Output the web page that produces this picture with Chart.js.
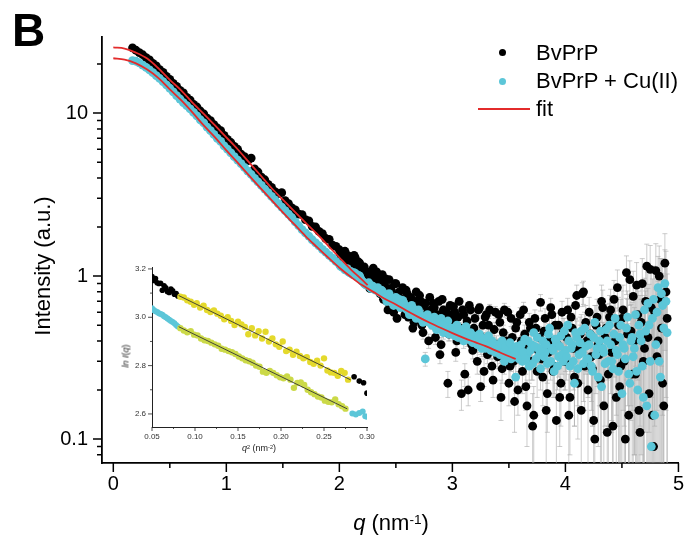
<!DOCTYPE html>
<html>
<head>
<meta charset="utf-8">
<script src="https://cdn.jsdelivr.net/npm/chart.js@4.4.1/dist/chart.umd.min.js"></script>
<style>
  html, body { margin: 0; padding: 0; background: #fff; }
  #wrap { position: relative; width: 693px; height: 542px; font-family: Arial, "Liberation Sans", sans-serif; overflow: hidden; }
  #mainChart { position: absolute; left: 0; top: 0; }
  #insetChart { position: absolute; left: 110px; top: 255px; }
  .lbl { position: absolute; color: #000; white-space: nowrap; }
  .dot { position: absolute; width: 7px; height: 7px; border-radius: 50%; }
  sup { font-size: 62%; vertical-align: top; position: relative; top: -0.2em; }
</style>
</head>
<body>
<div id="wrap">
  <canvas id="mainChart" width="693" height="542"></canvas>
  <canvas id="insetChart" width="270" height="200"></canvas>

  <div class="lbl" style="left:12px; top:7px; font-size:46px; line-height:46px; font-weight:bold;">B</div>

  <!-- legend -->
  <div class="dot" style="left:499px; top:49px; background:#000;"></div>
  <div class="lbl" style="left:536px; top:42px; font-size:22px; line-height:22px;">BvPrP</div>
  <div class="dot" style="left:499px; top:78px; background:#5cc6d8;"></div>
  <div class="lbl" style="left:536px; top:70px; font-size:22px; line-height:22px;">BvPrP + Cu(II)</div>
  <div class="lbl" style="left:478px; top:108px; width:52px; height:2px; background:#e32b2b;"></div>
  <div class="lbl" style="left:536px; top:98px; font-size:22px; line-height:22px;">fit</div>

  <!-- axis titles -->
  <div class="lbl" style="left:43px; top:266px; font-size:22px; line-height:22px; transform:translate(-50%,-50%) rotate(-90deg);">Intensity (a.u.)</div>
  <div class="lbl" style="left:391px; top:512px; font-size:22px; line-height:22px; transform:translateX(-50%);"><i>q</i> (nm<sup>-1</sup>)</div>

  <!-- inset titles -->
  <div class="lbl" style="left:126px; top:356px; font-size:9px; line-height:9px; color:#222; transform:translate(-50%,-50%) rotate(-90deg);"><i>ln I</i>(<i>q</i>)</div>
  <div class="lbl" style="left:259px; top:444px; font-size:9px; line-height:9px; color:#222; transform:translateX(-50%);"><i>q</i><sup>2</sup> (nm<sup>-2</sup>)</div>
</div>

<script>
// ---- main plot data: q (nm^-1) and intensity (a.u.) ----
const qLow = [0.17,0.20,0.23,0.26,0.29,0.32,0.35,0.38,0.41,0.44,0.47,0.50,0.53,0.56,0.59,0.62,0.65,0.68,0.71,0.74,
  0.77,0.80,0.83,0.86,0.89,0.92,0.95,0.98,1.01,1.04,1.07,1.10,1.13,1.16,1.19,1.22,1.25,1.28,1.31,1.34,
  1.37,1.40,1.43,1.46,1.49,1.52,1.55,1.58,1.61,1.64,1.67,1.70,1.73,1.76,1.79,1.82,1.85,1.88,1.91,1.94,1.97];

const blackLow = [25.1,24.3,23.5,22.8,21.9,21.2,20.2,19.5,18.5,17.8,
  16.8,16.1,15.2,14.6,13.8,13.3,12.5,12.0,11.3,10.9,
  10.3,9.9,9.3,9.0,8.5,8.1,7.8,7.3,6.9,6.6,
  6.25,6.0,5.6,5.4,5.1,5.3,4.55,4.35,4.05,3.9,
  3.65,3.5,3.3,3.2,3.25,2.9,2.78,2.62,2.55,2.4,
  2.38,2.22,2.18,2.02,2.0,1.88,1.82,1.7,1.68,1.55,1.52];

const cyanLow = [21.0,20.8,20.3,19.7,19.1,18.4,17.7,17.0,16.3,15.6,
  14.9,14.2,13.5,12.8,12.2,11.6,11.1,10.6,10.1,9.6,
  9.1,8.7,8.2,7.8,7.4,7.0,6.7,6.3,6.0,5.7,
  5.4,5.15,4.9,4.65,4.4,4.2,3.98,3.78,3.6,3.42,
  3.25,3.08,2.93,2.78,2.65,2.52,2.4,2.28,2.15,2.04,
  1.93,1.84,1.76,1.67,1.60,1.53,1.46,1.40,1.34,1.29,1.23];

// noisy part, even grid
const qHigh = [2.00,2.02,2.04,2.06,2.08,2.10,2.12,2.14,2.16,2.18,
  2.20,2.22,2.24,2.26,2.28,2.30,2.32,2.34,2.36,2.38,
  2.40,2.42,2.44,2.46,2.48,2.50,2.52,2.54,2.56,2.58,
  2.60,2.62,2.64,2.66,2.68,2.70,2.72,2.74,2.76,2.78,
  2.80,2.82,2.84,2.86,2.88,2.90,2.92,2.94,2.96,2.98,
  3.00,3.02,3.04,3.06,3.08,3.10,3.12,3.14,3.16,3.18,
  3.20,3.22,3.24,3.26,3.28,3.30,3.32,3.34,3.36,3.38,
  3.40,3.42,3.44,3.46,3.48,3.50,3.52,3.54,3.56,3.58,
  3.60,3.62,3.64,3.66,3.68,3.70,3.72,3.74,3.76,3.78,
  3.80,3.82,3.84,3.86,3.88,3.90,3.92,3.94,3.96,3.98,
  4.00,4.02,4.04,4.06,4.08,4.10,4.12,4.14,4.16,4.18,
  4.20,4.22,4.24,4.26,4.28,4.30,4.32,4.34,4.36,4.38,
  4.40,4.42,4.44,4.46,4.48,4.50,4.52,4.54,4.56,4.58,
  4.60,4.62,4.64,4.66,4.68,4.70,4.72,4.74,4.76,4.78,
  4.80,4.82,4.84,4.86,4.88,4.90];

const blackHigh = [1.45,1.30,1.38,1.22,1.33,1.25,1.18,1.30,1.10,1.20,
  1.02,1.14,0.95,1.06,0.90,1.12,0.86,0.98,0.78,1.02,
  0.88,0.70,0.95,0.82,0.60,0.90,0.76,0.68,0.85,0.58,
  0.78,0.66,0.72,0.52,0.80,0.62,0.70,0.45,0.68,0.60,
  0.74,0.55,0.64,0.48,0.70,0.38,0.62,0.56,0.22,0.66,
  0.52,0.60,0.40,0.70,0.19,0.58,0.46,0.20,0.62,0.35,
  0.55,0.30,0.64,0.42,0.26,0.58,0.50,0.36,0.23,0.60,
  0.32,0.52,0.27,0.62,0.40,0.22,0.55,0.30,0.48,0.20,
  0.58,0.26,0.44,0.16,0.52,0.30,0.14,0.48,0.35,0.69,
  0.24,0.55,0.19,0.40,0.58,0.28,0.13,0.50,0.22,0.45,
  0.30,0.62,0.18,0.48,0.24,0.76,0.35,0.15,0.80,0.52,
  0.20,0.44,0.27,0.10,0.56,0.33,0.70,0.16,0.48,0.25,
  0.62,0.12,0.40,0.85,0.21,0.55,0.30,1.05,0.14,0.46,
  0.75,0.25,0.58,0.11,0.90,0.36,1.15,0.19,0.64,0.09,
  1.08,0.40,0.72,0.22,1.20,0.55];

const cyanHigh = [1.18,1.14,1.12,1.10,1.06,1.07,1.02,1.04,0.99,1.00,
  0.93,0.90,0.88,0.91,0.84,0.86,0.82,0.85,0.79,0.81,
  0.76,0.70,0.78,0.72,0.66,0.74,0.69,0.64,0.71,0.66,
  0.63,0.58,0.66,0.60,0.55,0.62,0.57,0.52,0.31,0.58,
  0.54,0.50,0.56,0.47,0.52,0.55,0.45,0.50,0.53,0.46,
  0.48,0.43,0.50,0.44,0.46,0.40,0.49,0.42,0.45,0.39,
  0.42,0.38,0.44,0.36,0.41,0.37,0.43,0.35,0.39,0.34,
  0.37,0.33,0.40,0.30,0.35,0.38,0.31,0.36,0.24,0.34,
  0.36,0.30,0.41,0.33,0.28,0.38,0.45,0.31,0.36,0.27,
  0.40,0.34,0.29,0.48,0.36,0.26,0.39,0.32,0.43,0.30,
  0.35,0.50,0.28,0.38,0.22,0.42,0.33,0.46,0.29,0.37,
  0.31,0.44,0.26,0.52,0.36,0.40,0.21,0.34,0.47,0.30,
  0.38,0.27,0.55,0.33,0.42,0.19,0.36,0.48,0.25,0.40,
  0.32,0.58,0.20,0.44,0.28,0.62,0.16,0.50,0.09,0.72,
  0.38,0.85,0.24,0.66,0.90,0.45];

// noisy part, odd grid (in between)
const qHigh2 = [2.01,2.03,2.05,2.07,2.09,2.11,2.13,2.15,2.17,2.19,
  2.21,2.23,2.25,2.27,2.29,2.31,2.33,2.35,2.37,2.39,
  2.41,2.43,2.45,2.47,2.49,2.51,2.53,2.55,2.57,2.59,
  2.61,2.63,2.65,2.67,2.69,2.71,2.73,2.75,2.77,2.79,
  2.81,2.83,2.85,2.87,2.89,2.91,2.93,2.95,2.97,2.99,
  3.01,3.03,3.05,3.07,3.09,3.11,3.13,3.15,3.17,3.19,
  3.21,3.23,3.25,3.27,3.29,3.31,3.33,3.35,3.37,3.39,
  3.41,3.43,3.45,3.47,3.49,3.51,3.53,3.55,3.57,3.59,
  3.61,3.63,3.65,3.67,3.69,3.71,3.73,3.75,3.77,3.79,
  3.81,3.83,3.85,3.87,3.89,3.91,3.93,3.95,3.97,3.99,
  4.01,4.03,4.05,4.07,4.09,4.11,4.13,4.15,4.17,4.19,
  4.21,4.23,4.25,4.27,4.29,4.31,4.33,4.35,4.37,4.39,
  4.41,4.43,4.45,4.47,4.49,4.51,4.53,4.55,4.57,4.59,
  4.61,4.63,4.65,4.67,4.69,4.71,4.73,4.75,4.77,4.79,
  4.81,4.83,4.85,4.87,4.89];

const blackHigh2 = [1.36,1.24,1.42,1.15,1.28,1.20,1.34,1.08,1.22,1.12,
  1.08,0.92,1.04,0.84,0.99,0.94,1.06,0.82,0.92,0.72,
  0.96,0.62,0.84,0.74,0.90,0.55,0.80,0.72,0.64,0.82,
  0.56,0.74,0.48,0.70,0.64,0.76,0.50,0.66,0.58,0.40,
  0.62,0.68,0.42,0.58,0.33,0.72,0.50,0.60,0.44,0.57,
  0.65,0.34,0.56,0.48,0.62,0.25,0.53,0.66,0.38,0.48,
  0.44,0.62,0.21,0.50,0.56,0.33,0.62,0.28,0.47,0.38,
  0.58,0.18,0.45,0.35,0.60,0.28,0.42,0.17,0.52,0.36,
  0.40,0.62,0.21,0.36,0.48,0.12,0.55,0.26,0.42,0.31,
  0.46,0.15,0.34,0.64,0.26,0.50,0.38,0.18,0.60,0.30,
  0.42,0.14,0.56,0.36,0.66,0.22,0.44,0.78,0.28,0.40,
  0.60,0.32,0.13,0.50,0.38,0.23,0.64,0.42,0.11,0.56,
  0.34,0.72,0.18,0.50,0.28,0.62,0.10,0.44,0.95,0.25,
  0.40,0.88,0.15,0.52,0.30,0.70,0.42,1.10,0.14,0.60,
  0.32,1.00,0.48,0.16,0.80];

const cyanHigh2 = [1.15,1.13,1.09,1.11,1.05,1.03,1.05,1.00,1.01,0.96,
  0.92,0.89,0.90,0.86,0.87,0.83,0.84,0.80,0.82,0.77,
  0.74,0.76,0.71,0.73,0.69,0.67,0.72,0.65,0.68,0.63,
  0.61,0.64,0.58,0.62,0.57,0.59,0.54,0.56,0.53,0.55,
  0.51,0.53,0.49,0.52,0.48,0.50,0.47,0.49,0.44,0.48,
  0.46,0.45,0.42,0.47,0.43,0.45,0.41,0.44,0.40,0.43,
  0.40,0.43,0.37,0.40,0.36,0.42,0.38,0.40,0.35,0.37,
  0.36,0.39,0.34,0.37,0.32,0.39,0.35,0.33,0.37,0.31,
  0.38,0.34,0.31,0.40,0.35,0.29,0.37,0.42,0.33,0.36,
  0.32,0.38,0.44,0.30,0.35,0.41,0.28,0.37,0.33,0.46,
  0.32,0.40,0.36,0.30,0.45,0.27,0.39,0.34,0.48,0.31,
  0.38,0.28,0.42,0.33,0.24,0.46,0.36,0.29,0.40,0.50,
  0.30,0.44,0.35,0.26,0.50,0.38,0.31,0.56,0.22,0.42,
  0.36,0.26,0.50,0.40,0.18,0.46,0.68,0.30,0.55,0.14,
  0.60,0.30,0.78,0.48,0.70];

// error sizes along the even grid (odd points take their left neighbour's value)
const errBlackHigh = [0.02,0.02,0.02,0.02,0.02,0.02,0.02,0.02,0.02,0.02,
  0.03,0.03,0.03,0.03,0.03,0.03,0.03,0.03,0.03,0.03,
  0.03,0.03,0.03,0.03,0.03,0.03,0.03,0.03,0.03,0.03,
  0.03,0.03,0.03,0.03,0.03,0.04,0.04,0.04,0.04,0.04,
  0.04,0.04,0.04,0.04,0.04,0.04,0.04,0.04,0.04,0.04,
  0.04,0.04,0.04,0.04,0.04,0.04,0.04,0.04,0.04,0.04,
  0.04,0.05,0.04,0.05,0.05,0.04,0.05,0.05,0.05,0.05,
  0.05,0.05,0.05,0.06,0.05,0.06,0.06,0.06,0.06,0.06,
  0.06,0.07,0.06,0.07,0.07,0.07,0.07,0.08,0.07,0.08,
  0.08,0.08,0.08,0.09,0.08,0.09,0.09,0.09,0.10,0.10,
  0.10,0.11,0.10,0.11,0.12,0.12,0.12,0.13,0.13,0.14,
  0.14,0.15,0.15,0.16,0.16,0.17,0.18,0.18,0.19,0.20,
  0.21,0.22,0.23,0.24,0.25,0.26,0.27,0.28,0.29,0.30,
  0.32,0.33,0.35,0.36,0.38,0.40,0.42,0.44,0.46,0.48,
  0.50,0.53,0.56,0.59,0.62,0.65];

const errCyanHigh = [0.02,0.02,0.02,0.02,0.02,0.02,0.02,0.02,0.02,0.02,
  0.02,0.02,0.02,0.02,0.02,0.03,0.03,0.03,0.03,0.03,
  0.03,0.03,0.03,0.03,0.03,0.03,0.03,0.03,0.03,0.03,
  0.03,0.03,0.03,0.03,0.03,0.03,0.03,0.03,0.03,0.03,
  0.03,0.03,0.03,0.03,0.03,0.04,0.04,0.04,0.04,0.04,
  0.04,0.04,0.04,0.04,0.04,0.04,0.04,0.04,0.04,0.04,
  0.04,0.04,0.04,0.04,0.04,0.04,0.04,0.04,0.04,0.04,
  0.04,0.04,0.05,0.05,0.05,0.05,0.05,0.05,0.05,0.05,
  0.05,0.05,0.06,0.06,0.06,0.06,0.06,0.06,0.07,0.07,
  0.07,0.07,0.07,0.07,0.08,0.08,0.08,0.08,0.08,0.09,
  0.09,0.09,0.10,0.10,0.10,0.11,0.11,0.12,0.12,0.12,
  0.13,0.13,0.14,0.14,0.15,0.15,0.16,0.17,0.17,0.18,
  0.19,0.20,0.21,0.21,0.22,0.23,0.24,0.25,0.26,0.27,
  0.28,0.30,0.31,0.32,0.34,0.35,0.37,0.39,0.41,0.43,
  0.45,0.47,0.50,0.52,0.55,0.58];

// fit curves
const fitQUpper = [0,0.1,0.2,0.3,0.4,0.5,0.6,0.7,0.8,0.9,1.0,1.1,1.2,1.3,1.4,1.5,1.6,1.7,1.8,1.9,2.0,2.1,2.2,2.25];
const fitUpper = [25.3,24.9,23.5,21.6,18.8,16.0,13.8,11.6,9.9,8.4,7.1,6.0,5.0,4.17,3.47,2.94,2.50,2.13,1.82,1.54,1.30,1.10,0.95,0.88];
const fitQLower = [0,0.1,0.2,0.3,0.4,0.5,0.6,0.7,0.8,0.9,1.0,1.1,1.2,1.3,1.4,1.5,1.6,1.7,1.8,1.9,
  2.0,2.1,2.2,2.3,2.4,2.5,2.6,2.7,2.8,2.9,3.0,3.1,3.2,3.3,3.4,3.5,3.56];
const fitLower = [21.7,21.3,20.2,18.5,16.4,14.0,12.0,10.1,8.4,7.1,5.9,4.96,4.15,3.48,2.92,2.46,2.08,1.76,1.51,1.30,
  1.125,0.99,0.88,0.80,0.725,0.67,0.61,0.56,0.517,0.48,0.447,0.418,0.393,0.37,0.345,0.322,0.31];

// axis ticks
const xMajor = [0, 1, 2, 3, 4, 5];
const xMinor = [0.5, 1.5, 2.5, 3.5, 4.5];
const yMajor = [0.1, 1, 10];
const yMinor = [0.08, 0.09, 0.2, 0.3, 0.4, 0.5, 0.6, 0.7, 0.8, 0.9, 2, 3, 4, 5, 6, 7, 8, 9, 20];

// ---- inset data: q^2 (nm^-2) vs ln I(q) ----
const insetBlackQ2 = [0.050,0.052,0.054,0.056,0.058,0.060,0.062,0.064,0.066,0.068,0.070,0.072,0.074,0.076,0.078,0.080,0.285,0.291,0.296,0.300];
const insetBlackLn = [3.168,3.152,3.160,3.143,3.140,3.141,3.112,3.130,3.122,3.106,3.103,3.117,3.110,3.095,3.098,3.088,2.754,2.736,2.729,2.686];
const insetTopQ2 = [0.083,0.087,0.091,0.095,0.099,0.102,0.106,0.110,0.114,0.118,0.122,0.126,0.130,0.134,0.138,0.142,0.146,0.150,0.154,0.158,
  0.162,0.166,0.170,0.174,0.178,0.182,0.186,0.190,0.194,0.198,0.202,0.206,0.210,0.214,0.218,0.222,0.226,0.230,0.234,0.238,
  0.242,0.246,0.250,0.254,0.258,0.262,0.266,0.270,0.274,0.278];
const insetTopLn = [3.085,3.082,3.070,3.064,3.052,3.058,3.040,3.048,3.030,3.022,3.028,3.015,3.006,2.992,3.000,2.985,2.968,2.982,2.970,2.960,
  2.930,2.955,2.925,2.942,2.912,2.940,2.900,2.912,2.888,2.878,2.900,2.860,2.866,2.845,2.858,2.840,2.830,2.835,2.815,2.808,
  2.820,2.800,2.830,2.780,2.772,2.770,2.758,2.778,2.770,2.742];
const insetCyanQ2 = [0.050,0.052,0.054,0.056,0.058,0.060,0.062,0.064,0.066,0.068,0.070,0.072,0.074,0.076,0.078,0.080,0.283,0.287,0.291,0.295,0.298,0.300];
const insetCyanLn = [3.037,3.030,3.025,3.022,3.017,3.014,3.010,3.004,3.000,2.995,2.990,2.985,2.980,2.975,2.968,2.962,2.602,2.598,2.604,2.610,2.590,2.588];
const insetLowQ2 = [0.083,0.087,0.091,0.095,0.099,0.103,0.107,0.111,0.115,0.119,0.123,0.127,0.131,0.135,0.139,0.143,0.147,0.151,0.155,0.159,
  0.163,0.167,0.171,0.175,0.179,0.183,0.187,0.191,0.195,0.199,0.203,0.207,0.211,0.215,0.219,0.223,0.227,0.231,0.235,0.239,
  0.243,0.247,0.251,0.255,0.259,0.263,0.267,0.271,0.275];
const insetLowLn = [2.955,2.945,2.938,2.942,2.928,2.925,2.912,2.905,2.902,2.895,2.888,2.882,2.870,2.866,2.860,2.855,2.848,2.838,2.830,2.822,
  2.818,2.812,2.800,2.795,2.775,2.770,2.778,2.770,2.760,2.752,2.748,2.755,2.742,2.708,2.728,2.730,2.720,2.700,2.690,2.682,
  2.672,2.668,2.655,2.650,2.648,2.660,2.640,2.632,2.622];
const insetFitTopQ2 = [0.081, 0.281];
const insetFitTopLn = [3.090, 2.741];
const insetFitLowQ2 = [0.081, 0.277];
const insetFitLowLn = [2.961, 2.621];

const insetXMajor = [0.05, 0.10, 0.15, 0.20, 0.25, 0.30];
const insetXMinor = [0.075, 0.125, 0.175, 0.225, 0.275];
const insetYMajor = [2.6, 2.8, 3.0, 3.2];
const insetYMinor = [2.7, 2.9, 3.1];

// helpers
const toPoints = (xs, ys) => xs.map((v, i) => ({ x: v, y: ys[i] }));

// tick marks drawn outside the axes (major and minor)
const tickMarks = {
  id: 'tickMarks',
  afterDraw(chart, args, opts) {
    const ctx = chart.ctx;
    const area = chart.chartArea;
    const xs = chart.scales.x, ys = chart.scales.y;
    ctx.save();
    ctx.strokeStyle = opts.color;
    ctx.lineWidth = opts.width;
    ctx.beginPath();
    opts.xMajor.forEach(v => { const p = xs.getPixelForValue(v); ctx.moveTo(p, area.bottom); ctx.lineTo(p, area.bottom + opts.majorLen); });
    opts.xMinor.forEach(v => { const p = xs.getPixelForValue(v); ctx.moveTo(p, area.bottom); ctx.lineTo(p, area.bottom + opts.minorLen); });
    opts.yMajor.forEach(v => { const p = ys.getPixelForValue(v); ctx.moveTo(area.left, p); ctx.lineTo(area.left - opts.majorLen, p); });
    opts.yMinor.forEach(v => { const p = ys.getPixelForValue(v); ctx.moveTo(area.left, p); ctx.lineTo(area.left - opts.minorLen, p); });
    ctx.stroke();
    ctx.restore();
  }
};

// grey error bars under the points
const errorBars = {
  id: 'errorBars',
  beforeDatasetsDraw(chart) {
    const { ctx, chartArea } = chart;
    const xs = chart.scales.x, ys = chart.scales.y;
    ctx.save();
    ctx.beginPath();
    ctx.rect(chartArea.left, chartArea.top, chartArea.right - chartArea.left, chartArea.bottom - chartArea.top);
    ctx.clip();
    ctx.strokeStyle = 'rgba(170,170,170,0.75)';
    ctx.lineWidth = 0.8;
    chart.data.datasets.forEach(ds => {
      if (!ds.errors) return;
      ds.data.forEach((p, i) => {
        const e = ds.errors[i];
        if (!e) return;
        const px = xs.getPixelForValue(p.x);
        const top = ys.getPixelForValue(p.y + e);
        const lo = p.y - e;
        const bot = lo > 0 ? ys.getPixelForValue(lo) : chartArea.bottom + 5;
        ctx.beginPath();
        ctx.moveTo(px, top); ctx.lineTo(px, bot);
        ctx.moveTo(px - 2.5, top); ctx.lineTo(px + 2.5, top);
        if (lo > 0) { ctx.moveTo(px - 2.5, bot); ctx.lineTo(px + 2.5, bot); }
        ctx.stroke();
      });
    });
    ctx.restore();
  }
};

const blackData = toPoints(qLow, blackLow).concat(toPoints(qHigh, blackHigh), toPoints(qHigh2, blackHigh2));
const cyanData = toPoints(qLow, cyanLow).concat(toPoints(qHigh, cyanHigh), toPoints(qHigh2, cyanHigh2));
const blackErr = qLow.map(() => 0).concat(errBlackHigh, errBlackHigh.slice(0, qHigh2.length));
const cyanErr = qLow.map(() => 0).concat(errCyanHigh, errCyanHigh.slice(0, qHigh2.length));

const mainChart = new Chart(document.getElementById('mainChart').getContext('2d'), {
  type: 'scatter',
  data: {
    datasets: [
      {
        label: 'fit',
        type: 'line',
        data: toPoints(fitQUpper, fitUpper),
        borderColor: '#e32b2b',
        borderWidth: 1.8,
        pointRadius: 0,
        cubicInterpolationMode: 'monotone',
        order: 0
      },
      {
        label: 'fit',
        type: 'line',
        data: toPoints(fitQLower, fitLower),
        borderColor: '#e32b2b',
        borderWidth: 1.8,
        pointRadius: 0,
        cubicInterpolationMode: 'monotone',
        order: 0
      },
      {
        label: 'BvPrP + Cu(II)',
        data: cyanData,
        errors: cyanErr,
        backgroundColor: '#5cc6d8',
        borderWidth: 0,
        pointRadius: 4.4,
        order: 1
      },
      {
        label: 'BvPrP',
        data: blackData,
        errors: blackErr,
        backgroundColor: '#000',
        borderWidth: 0,
        pointRadius: 4.4,
        order: 2
      }
    ]
  },
  options: {
    responsive: false,
    animation: false,
    events: [],
    layout: { padding: { top: 37, right: 13, left: 0, bottom: 0 } },
    plugins: {
      legend: { display: false },
      tooltip: { enabled: false },
      tickMarks: { xMajor, xMinor, yMajor, yMinor, majorLen: 9, minorLen: 5, color: '#000', width: 1.5 }
    },
    scales: {
      x: {
        type: 'linear',
        min: -0.1,
        max: 5,
        grid: { display: false, drawTicks: false },
        border: { display: true, color: '#000', width: 1.8 },
        afterBuildTicks: s => { s.ticks = xMajor.map(v => ({ value: v })); },
        afterFit: s => { s.height = 79; },
        ticks: { color: '#000', font: { family: 'Arial', size: 20 }, padding: 9, maxRotation: 0, autoSkip: false, callback: v => String(v) }
      },
      y: {
        type: 'logarithmic',
        min: 0.0713,
        max: 29.3,
        grid: { display: false, drawTicks: false },
        border: { display: true, color: '#000', width: 1.8 },
        afterBuildTicks: s => { s.ticks = yMajor.map(v => ({ value: v })); },
        afterFit: s => { s.width = 102; },
        ticks: { color: '#000', font: { family: 'Arial', size: 20 }, padding: 14, autoSkip: false, callback: v => String(v) }
      }
    }
  },
  plugins: [errorBars, tickMarks]
});

// inset: Guinier plot
const insetChart = new Chart(document.getElementById('insetChart').getContext('2d'), {
  type: 'scatter',
  data: {
    datasets: [
      { type: 'line', data: toPoints(insetFitTopQ2, insetFitTopLn), borderColor: '#333', borderWidth: 0.9, pointRadius: 0, order: 0 },
      { type: 'line', data: toPoints(insetFitLowQ2, insetFitLowLn), borderColor: '#333', borderWidth: 0.9, pointRadius: 0, order: 0 },
      { data: toPoints(insetTopQ2, insetTopLn), backgroundColor: '#e4d92c', borderWidth: 0, pointRadius: 3.2, order: 1 },
      { data: toPoints(insetLowQ2, insetLowLn), backgroundColor: '#cbd948', borderWidth: 0, pointRadius: 3.2, order: 1 },
      { data: toPoints(insetCyanQ2, insetCyanLn), backgroundColor: '#5cc6d8', borderWidth: 0, pointRadius: 3.0, order: 2 },
      { data: toPoints(insetBlackQ2, insetBlackLn), backgroundColor: '#000', borderWidth: 0, pointRadius: 2.8, order: 2 }
    ]
  },
  options: {
    responsive: false,
    animation: false,
    events: [],
    layout: { padding: { top: 12, right: 13, left: 0, bottom: 0 } },
    plugins: {
      legend: { display: false },
      tooltip: { enabled: false },
      tickMarks: { xMajor: insetXMajor, xMinor: insetXMinor, yMajor: insetYMajor, yMinor: insetYMinor, majorLen: 4, minorLen: 2, color: '#222', width: 0.8 }
    },
    scales: {
      x: {
        type: 'linear',
        min: 0.05,
        max: 0.30,
        grid: { display: false, drawTicks: false },
        border: { display: true, color: '#222', width: 1 },
        afterBuildTicks: s => { s.ticks = insetXMajor.map(v => ({ value: v })); },
        afterFit: s => { s.height = 28; },
        ticks: { color: '#333', font: { family: 'Arial', size: 8 }, padding: 5, maxRotation: 0, autoSkip: false, callback: v => v.toFixed(2) }
      },
      y: {
        type: 'linear',
        min: 2.546,
        max: 3.208,
        grid: { display: false, drawTicks: false },
        border: { display: true, color: '#222', width: 1 },
        afterBuildTicks: s => { s.ticks = insetYMajor.map(v => ({ value: v })); },
        afterFit: s => { s.width = 42; },
        ticks: { color: '#333', font: { family: 'Arial', size: 8 }, padding: 6, autoSkip: false, callback: v => v.toFixed(1) }
      }
    }
  },
  plugins: [tickMarks]
});
</script>
</body>
</html>
